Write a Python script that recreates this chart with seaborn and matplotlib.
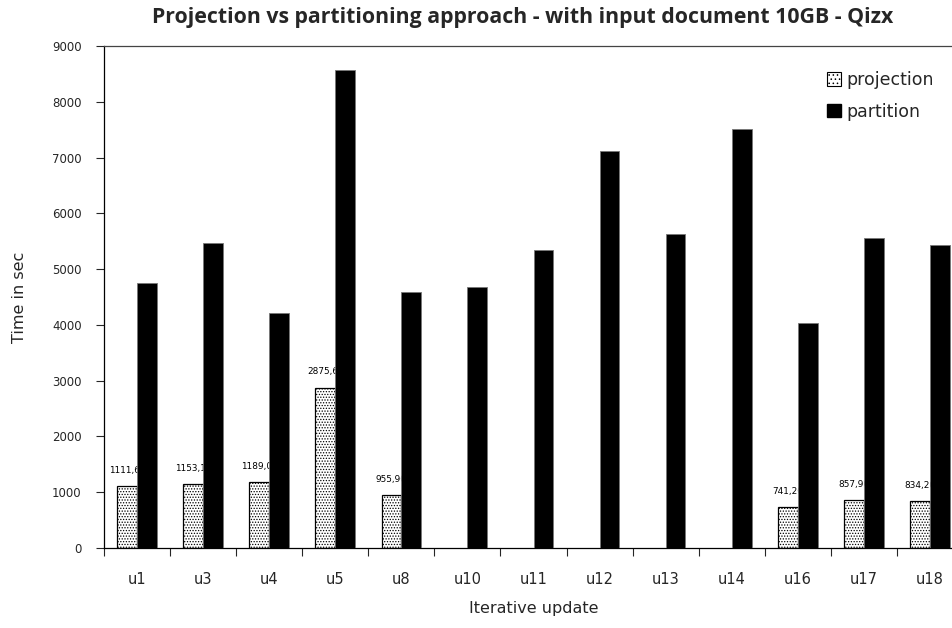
import numpy as np
import pandas as pd
import matplotlib
matplotlib.use("Agg")
import matplotlib.pyplot as plt
import matplotlib.colors as mcolors
import seaborn as sns
from matplotlib.patches import Patch

categories = ["u1", "u3", "u4", "u5", "u8", "u10", "u11", "u12", "u13", "u14", "u16", "u17", "u18"]
projection = [1111.6, 1153.1, 1189.0, 2875.6, 955.9, np.nan, np.nan, np.nan, np.nan, np.nan, 741.2, 857.9, 834.2]
partition = [4750, 5470, 4220, 8570, 4590, 4680, 5350, 7120, 5630, 7510, 4040, 5560, 5440]
series_names = ["projection", "partition"]
y_ticks = [0, 1000, 2000, 3000, 4000, 5000, 6000, 7000, 8000, 9000]

df = pd.DataFrame({
    "update": categories * 2,
    "time": projection + partition,
    "series": [series_names[0]] * len(categories) + [series_names[1]] * len(categories),
})

sns.set_style("white")
plt.rcParams["font.family"] = ["DejaVu Sans"]
plt.rcParams["hatch.linewidth"] = 0.6

fig = plt.figure(figsize=(9.53, 6.28), dpi=100)
ax = fig.add_axes([104 / 953, 1 - 548 / 628, (963 - 104) / 953, (548 - 46) / 628])

sns.barplot(data=df, x="update", y="time", hue="series", order=categories,
            hue_order=series_names, palette=["white", "black"], width=0.6,
            dodge=True, ax=ax, legend=False, saturation=1)

n = len(categories)
proj_patches, part_patches = [], []
for p in ax.patches:
    fc = mcolors.to_hex(p.get_facecolor())
    if fc == "#ffffff":
        proj_patches.append(p)
    else:
        part_patches.append(p)

for p in proj_patches:
    p.set_hatch("......")
    p.set_edgecolor("black")
    p.set_linewidth(0.9)
    p.set_zorder(2)
for p in part_patches:
    p.set_edgecolor("#777777")
    p.set_linewidth(0.6)
    p.set_zorder(4)

# data labels for projection (partially hidden behind partition bars)
for p in proj_patches:
    cx = p.get_x() + p.get_width() / 2
    idx = int(round(cx + 0.15))
    v = projection[idx]
    if np.isnan(v):
        continue
    ax.annotate(f"{v:.2f}".replace(".", ","), (cx, v), xytext=(0, 8),
                textcoords="offset points", ha="center", va="bottom",
                fontsize=6.4, color="black", zorder=3)

ax.set_ylim(0, 9000)
ax.set_xlim(-0.5, n - 0.5)
ax.set_yticks(y_ticks)
ax.set_yticklabels([str(t) for t in y_ticks], fontsize=8.5)
ax.set_xticks(range(n))
ax.set_xticklabels(categories, fontsize=10.5)
ax.set_xticks(np.arange(-0.5, n, 1.0), minor=True)
ax.tick_params(axis="x", which="major", length=0, pad=17)
ax.tick_params(axis="x", which="minor", length=6, width=0.8, direction="out", bottom=True)
ax.tick_params(axis="y", which="major", length=6, width=0.8, direction="out", left=True, pad=10)

for side in ["left", "bottom", "top"]:
    ax.spines[side].set_visible(True)
    ax.spines[side].set_color("black")
    ax.spines[side].set_linewidth(0.9)
ax.spines["top"].set_color("#444444")
ax.spines["right"].set_visible(False)

ax.set_xlabel("Iterative update", fontsize=11.5, labelpad=10)
ax.set_ylabel("Time in sec", fontsize=11.5, labelpad=18)

fig.text(523 / 953, 1 - 17 / 628, "Projection vs partitioning approach - with input document 10GB - Qizx",
         ha="center", va="center", fontsize=15.3, fontweight="bold", family=["Open Sans", "DejaVu Sans"])

handles = [Patch(facecolor="white", edgecolor="black", hatch="....", linewidth=0.8),
           Patch(facecolor="black", edgecolor="black")]
leg = fig.legend(handles, series_names, loc="upper left", bbox_to_anchor=(827 / 953, 1 - 71 / 628),
                 frameon=False, fontsize=12.5, handlelength=0.8, handleheight=0.8,
                 handletextpad=0.3, labelspacing=0.8, borderaxespad=0, borderpad=0)

fig.savefig("out.png", dpi=100)
